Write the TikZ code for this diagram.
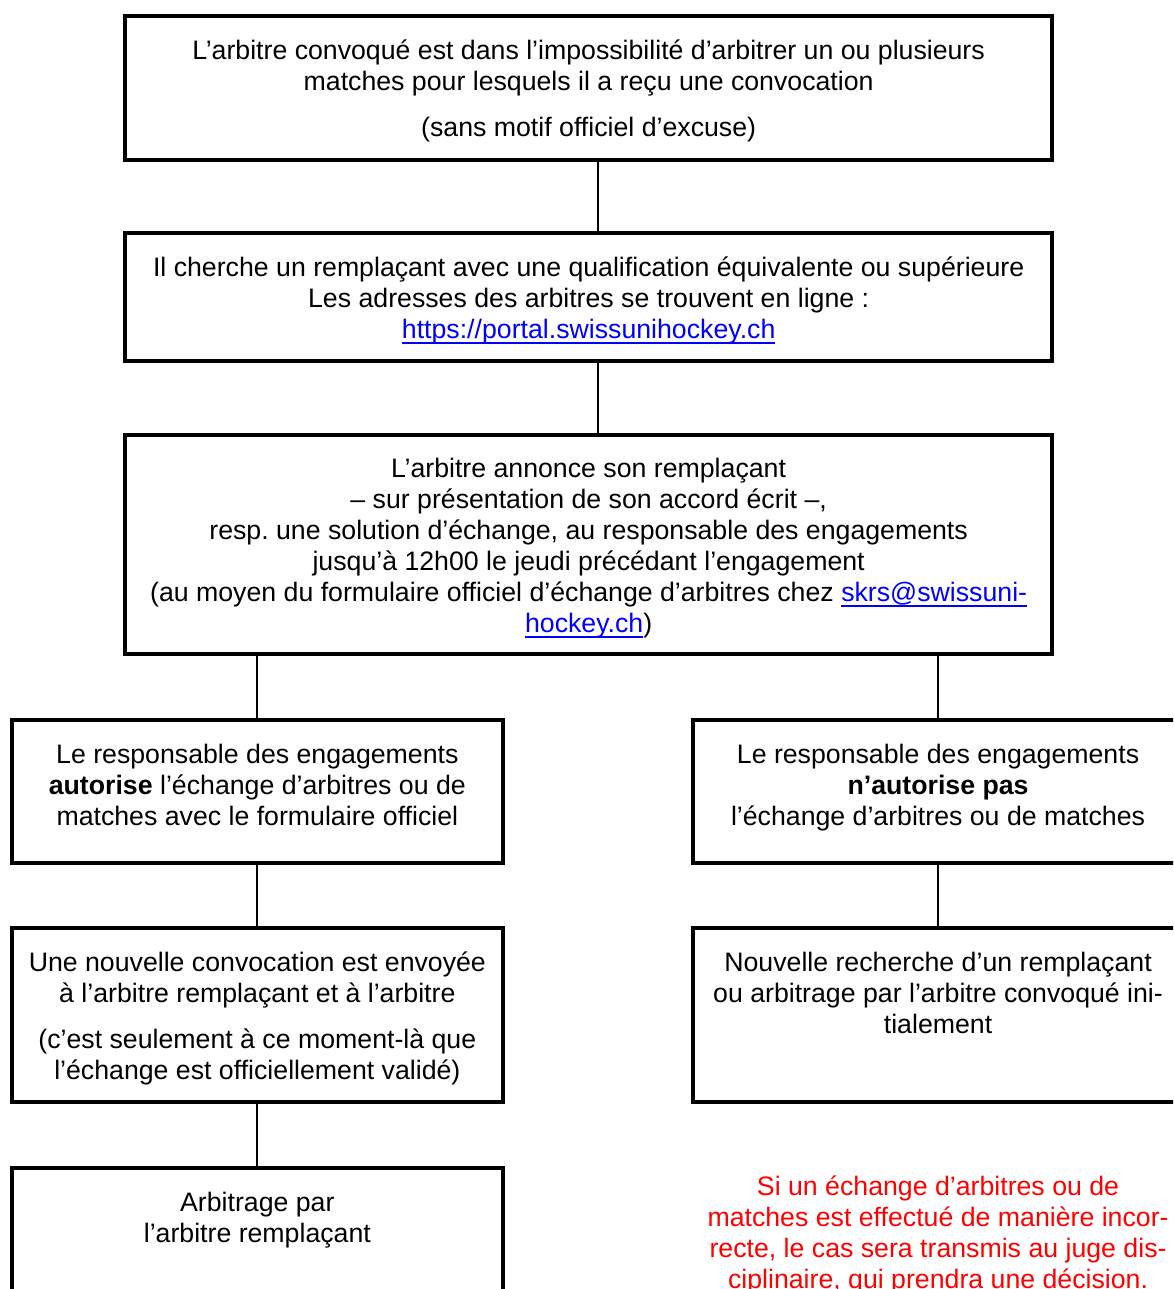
\documentclass[tikz,border=0pt]{standalone}
\usepackage{fontspec}
\setmainfont{Liberation Sans}
\frenchspacing
\newcommand\fs{\fontsize{26.7}{31}\selectfont}
\newcommand\lnk[1]{\textcolor{blue}{\setbox0\hbox{#1}\rlap{\rule[-5.5pt]{\wd0}{2pt}}\box0}}
\begin{document}
\begin{tikzpicture}[x=1pt,y=-1pt,
  box/.style={draw, line width=4pt, inner sep=0pt, outer sep=0pt},
  txt/.style={anchor=north, inner sep=0pt, outer sep=0pt, align=center, font=\fs},
  conn/.style={line width=2pt}]
\useasboundingbox (0,0) rectangle (1173,1289);
\clip (0,0) rectangle (1173,1289);
\fill[white] (0,0) rectangle (1173,1289);

% boxes
\node[box, minimum width=926.7, minimum height=144] (b1) at (588.65,88) {};
\node[box, minimum width=926.7, minimum height=128.3] (b2) at (588.65,296.85) {};
\node[box, minimum width=926.7, minimum height=219.3] (b3) at (588.65,544.35) {};
\node[box, minimum width=490.7, minimum height=142.5] (b4) at (257.35,791.25) {};
\node[box, minimum width=490.7, minimum height=142.5] (b5) at (938.05,791.25) {};
\node[box, minimum width=490.7, minimum height=174] (b6) at (257.35,1015) {};
\node[box, minimum width=490.7, minimum height=174] (b7) at (938.05,1015) {};
\node[box, minimum width=490.7, minimum height=174] (b8) at (257.35,1255) {};

% texts
\node[txt] (t1) at (588.65,{59.5-21.7}) {\strut L’arbitre convoqué est dans l’impossibilité d’arbitrer un ou plusieurs\\
matches pour lesquels il a reçu une convocation\\[15pt]
(sans motif officiel d’excuse)};
\node[txt] (t2) at (588.65,{276-21.7}) {\strut Il cherche un remplaçant avec une qualification équivalente ou supérieure\\
Les adresses des arbitres se trouvent en ligne :\\
\lnk{https://portal.swissunihockey.ch}};
\node[txt] (t3) at (588.65,{477.5-21.7}) {\strut L’arbitre annonce son remplaçant\\
– sur présentation de son accord écrit –,\\
resp. une solution d’échange, au responsable des engagements\\
jusqu’à 12h00 le jeudi précédant l’engagement\\
(au moyen du formulaire officiel d’échange d’arbitres chez \lnk{skrs@swissuni-}\\
\lnk{hockey.ch})};
\node[txt] (t4) at (257.35,{763.5-21.7}) {\strut Le responsable des engagements\\
\textbf{autorise} l’échange d’arbitres ou de\\
matches avec le formulaire officiel};
\node[txt] (t5) at (938.05,{763.5-21.7}) {\strut Le responsable des engagements\\
\textbf{n’autorise pas}\\
l’échange d’arbitres ou de matches};
\node[txt] (t6) at (257.35,{971.5-21.7}) {\strut Une nouvelle convocation est envoyée\\
à l’arbitre remplaçant et à l’arbitre\\[15pt]
(c’est seulement à ce moment-là que\\
l’échange est officiellement validé)};
\node[txt] (t7) at (938.05,{971.5-21.7}) {\strut Nouvelle recherche d’un remplaçant\\
ou arbitrage par l’arbitre convoqué ini-\\
tialement};
\node[txt] (t8) at (257.35,{1211.5-21.7}) {\strut Arbitrage par\\
l’arbitre remplaçant};
\node[txt, text=red] (t9) at (938.05,{1195.5-21.7}) {\strut Si un échange d’arbitres ou de\\
matches est effectué de manière incor-\\
recte, le cas sera transmis au juge dis-\\
ciplinaire, qui prendra une décision.};

% connectors
\draw[conn] ([xshift=9.3pt]b1.south) -- ([xshift=9.3pt]b2.north);
\draw[conn] ([xshift=9.3pt]b2.south) -- ([xshift=9.3pt]b3.north);
\draw[conn] (b3.south -| b4.north) -- (b4.north);
\draw[conn] (b3.south -| b5.north) -- (b5.north);
\draw[conn] (b4.south) -- (b6.north);
\draw[conn] (b5.south) -- (b7.north);
\draw[conn] (b6.south) -- (b8.north);
\end{tikzpicture}
\end{document}
